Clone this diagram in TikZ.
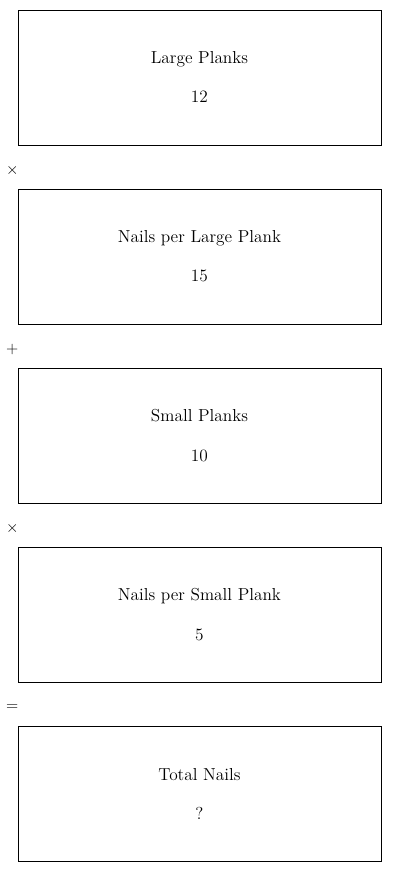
\documentclass[tikz,border=0pt]{standalone}
\usepackage{xcolor}
\usetikzlibrary{positioning}

\begin{document}
\begin{tikzpicture}[font=\fontsize{13}{15.5}\selectfont]
\tikzset{card/.style={draw=black,line width=0.6pt,minimum width=272.25pt,minimum height=101.25pt,align=center,inner sep=0pt,text depth=0.5pt},op/.style={inner sep=0pt}}
\useasboundingbox (0,0) rectangle (300pt,-654pt);
\node[card] (lp) at (149.6pt,-58.1pt) {Large Planks\\[14pt]12};
\node[card,below=32.5pt of lp] (nlp) {Nails per Large Plank\\[14pt]15};
\node[card,below=32.5pt of nlp] (sp) {Small Planks\\[14pt]10};
\node[card,below=32.5pt of sp] (nsp) {Nails per Small Plank\\[14pt]5};
\node[card,below=32.5pt of nsp] (tot) {Total Nails\\[14pt]?};
\node[op] (op1) at ([xshift=-4pt,yshift=-18.75pt]lp.south west) {$\times$};
\node[op] (op2) at ([xshift=-4pt,yshift=-18.75pt]nlp.south west) {$+$};
\node[op] (op3) at ([xshift=-4pt,yshift=-18.75pt]sp.south west) {$\times$};
\node[op] (op4) at ([xshift=-4pt,yshift=-18.75pt]nsp.south west) {$=$};
\end{tikzpicture}
\end{document}
